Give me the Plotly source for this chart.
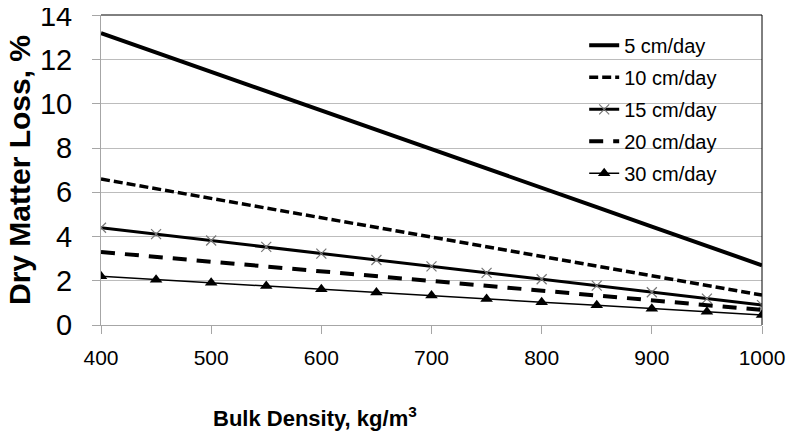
import plotly.graph_objects as go

bulk_density = [400, 450, 500, 550, 600, 650, 700, 750, 800, 850, 900, 950, 1000]

loss_5 = [13.2, 12.33, 11.45, 10.58, 9.7, 8.83, 7.95, 7.08, 6.2, 5.33, 4.45, 3.58, 2.7]
loss_10 = [6.6, 6.16, 5.73, 5.29, 4.85, 4.41, 3.98, 3.54, 3.1, 2.66, 2.23, 1.79, 1.35]
loss_15 = [4.4, 4.11, 3.82, 3.53, 3.23, 2.94, 2.65, 2.36, 2.07, 1.78, 1.48, 1.19, 0.9]
loss_20 = [3.3, 3.08, 2.86, 2.64, 2.43, 2.21, 1.99, 1.77, 1.55, 1.33, 1.11, 0.89, 0.68]
loss_30 = [2.2, 2.05, 1.91, 1.76, 1.62, 1.47, 1.33, 1.18, 1.03, 0.89, 0.74, 0.6, 0.45]

series_names = ["5 cm/day", "10 cm/day", "15 cm/day", "20 cm/day", "30 cm/day"]

x_ticks = [400, 500, 600, 700, 800, 900, 1000]
y_ticks = [0, 2, 4, 6, 8, 10, 12, 14]

FONT = "Liberation Sans, Arial, sans-serif"

fig = go.Figure()

fig.add_trace(go.Scatter(x=bulk_density, y=loss_5, name=series_names[0], mode="lines",
                         line=dict(color="black", width=4), legendgroup="a"))
fig.add_trace(go.Scatter(x=bulk_density, y=loss_10, name=series_names[1], mode="lines",
                         line=dict(color="black", width=3.5, dash="9px,4px"), legendgroup="b"))
fig.add_trace(go.Scatter(x=bulk_density, y=loss_15, name=series_names[2], mode="lines+markers",
                         line=dict(color="black", width=3),
                         marker=dict(symbol="x-thin-open", size=10, color="#777777",
                                     line=dict(color="#777777", width=1.2)),
                         legendgroup="c"))
fig.add_trace(go.Scatter(x=bulk_density, y=loss_20, name=series_names[3], mode="lines",
                         line=dict(color="black", width=4, dash="14px,10px"), legendgroup="d"))
fig.add_trace(go.Scatter(x=bulk_density, y=loss_30, name=series_names[4], mode="lines+markers",
                         line=dict(color="black", width=1.5),
                         marker=dict(symbol="triangle-up", size=11, color="black"),
                         legendgroup="e"))

fig.update_layout(
    width=790, height=424,
    margin=dict(l=93, r=36, t=7, b=107, autoexpand=False),
    paper_bgcolor="white", plot_bgcolor="white",
    font=dict(family=FONT, color="black"),
    showlegend=True,
    legend=dict(x=0.731, y=0.965, xanchor="left", yanchor="top",
                font=dict(size=20, family=FONT, color="black"),
                bgcolor="rgba(0,0,0,0)", itemwidth=30, tracegroupgap=3,
                traceorder="grouped"),
    xaxis=dict(range=[400, 1000], tickvals=x_ticks, showgrid=False, zeroline=False,
               showline=True, linecolor="#a6a6a6", linewidth=1, automargin=False,
               ticks="outside", ticklen=8, tickcolor="#a6a6a6",
               tickfont=dict(size=21, family=FONT), ticklabelstandoff=6),
    yaxis=dict(range=[0, 14.02], tickvals=y_ticks, showgrid=True, gridcolor="#bcbcbc", gridwidth=1,
               zeroline=False, showline=True, linecolor="#a6a6a6", linewidth=1, automargin=False,
               ticks="outside", ticklen=8, tickcolor="#a6a6a6", ticklabeloverflow="allow",
               tickfont=dict(size=29, family=FONT), ticklabelstandoff=14),
    annotations=[
        dict(text="<b>Bulk Density, kg/m<sup>3</sup></b>", xref="paper", yref="paper",
             x=0.324, y=-0.297, xanchor="center", yanchor="middle", showarrow=False,
             font=dict(size=22, family=FONT, color="black")),
        dict(text="<b>Dry Matter Loss, %</b>", xref="paper", yref="paper",
             x=-0.124, y=0.5, xanchor="center", yanchor="middle", showarrow=False,
             textangle=-90, font=dict(size=30, family=FONT, color="black")),
    ],
    shapes=[
        dict(type="line", xref="paper", yref="paper", x0=0, x1=1, y0=1, y1=1,
             line=dict(color="black", width=1)),
        dict(type="line", xref="paper", yref="paper", x0=1, x1=1, y0=0, y1=1,
             line=dict(color="black", width=1)),
    ],
)

fig.write_html("out.html")
